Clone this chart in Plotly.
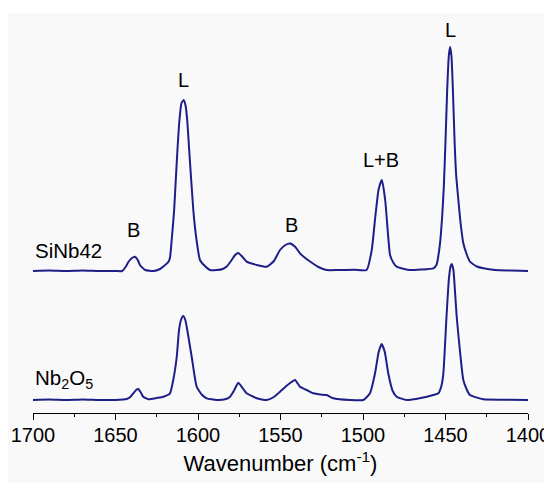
import plotly.graph_objects as go

# ---- data ----
sinb_wn = [1700, 1690, 1680, 1670, 1660, 1650, 1646, 1643.5, 1642.2, 1640, 1638.2, 1636.5, 1635.2, 1632, 1627,
           1623, 1621, 1618, 1617, 1616, 1614.5, 1613.5, 1612.5, 1611.3, 1610, 1608.7, 1607.5, 1606.5, 1605.3,
           1602.8, 1600.8, 1598.8, 1595.8, 1592.7, 1588.7, 1585, 1582.6, 1580, 1577.5, 1575.6, 1573, 1570.5,
           1564.4, 1558.4, 1554, 1550.3, 1547, 1544.2, 1541, 1538.2, 1535, 1532.1, 1527, 1522, 1515, 1505,
           1497.8, 1494.7, 1492.5, 1490.5, 1488.5, 1486.5, 1485, 1483.6, 1481.5, 1479.6, 1475, 1471.5, 1465,
           1457.4, 1455.5, 1453.5, 1452, 1451, 1450, 1449, 1448, 1447.2, 1446.4, 1445.5, 1444.5, 1443.5,
           1442.2, 1441, 1439.2, 1437, 1435.2, 1431, 1427, 1420, 1410, 1400]
sinb_abs = [0.0, 0.005, 0.0, 0.005, 0.0, 0.0, 0.0, 0.05, 0.09, 0.13, 0.143, 0.11, 0.06, 0.01, 0.0,
            0.02, 0.045, 0.09, 0.13, 0.3, 0.6, 0.9, 1.2, 1.5, 1.68, 1.71, 1.65, 1.5, 1.2,
            0.6, 0.3, 0.11, 0.05, 0.01, 0.01, 0.02, 0.045, 0.1, 0.16, 0.18, 0.14, 0.093,
            0.06, 0.043, 0.1, 0.21, 0.26, 0.275, 0.24, 0.177, 0.13, 0.095, 0.04, 0.01, 0.01, 0.012,
            0.01, 0.21, 0.55, 0.82, 0.91, 0.7, 0.4, 0.16, 0.08, 0.043, 0.02, 0.01, 0.015,
            0.027, 0.06, 0.25, 0.55, 0.85, 1.3, 1.8, 2.15, 2.24, 2.15, 1.8, 1.3, 0.95,
            0.71, 0.5, 0.277, 0.16, 0.093, 0.045, 0.027, 0.01, 0.005, 0.0]

nb_wn = [1700, 1690, 1680, 1670, 1660, 1650, 1643.2, 1641, 1639.2, 1637.5, 1636.2, 1634.5, 1633.2, 1630,
         1625, 1621, 1617, 1615, 1612.9, 1611.5, 1610.3, 1609, 1607.7, 1606.5, 1605, 1603.8, 1600.8, 1597.5,
         1594.7, 1588.7, 1583, 1580.6, 1578, 1575.6, 1573, 1570.5, 1564.4, 1558.4, 1554, 1550.3, 1545,
         1541.2, 1538.2, 1534.1, 1530.1, 1526, 1522, 1518, 1507.9, 1499.8, 1495.8, 1492.7, 1490.5, 1488.7,
         1486.8, 1484.7, 1482, 1479.6, 1473.5, 1465, 1457.4, 1454.3, 1452.5, 1451.3, 1449.4, 1448, 1447,
         1446.2, 1445.2, 1444.3, 1443.2, 1441, 1439.2, 1437, 1435.2, 1427.1, 1415, 1400]
nb_abs = [0.0, 0.005, 0.0, 0.005, 0.0, 0.0, 0.01, 0.03, 0.067, 0.1, 0.11, 0.07, 0.033, 0.007,
          0.02, 0.033, 0.067, 0.2, 0.43, 0.7, 0.8, 0.84, 0.8, 0.7, 0.55, 0.43, 0.133, 0.05,
          0.017, 0.0, 0.01, 0.033, 0.1, 0.173, 0.12, 0.067, 0.017, 0.0, 0.03, 0.083, 0.16,
          0.2, 0.133, 0.1, 0.067, 0.055, 0.05, 0.017, 0.0, 0.0, 0.067, 0.267, 0.48, 0.56,
          0.48, 0.267, 0.09, 0.033, 0.0, 0.02, 0.05, 0.067, 0.14, 0.267, 0.83, 1.2, 1.33,
          1.36, 1.3, 1.1, 0.83, 0.45, 0.2, 0.1, 0.05, 0.007, 0.003, 0.0]

sinb_offset = 1.29
series_names = ["SiNb42", "Nb<sub>2</sub>O<sub>5</sub>"]

band_labels = ["B", "L", "B", "L+B", "L"]
band_wn = [1638.8, 1608.5, 1543.2, 1489, 1447]
band_label_y = [1.70, 3.20, 1.75, 2.40, 3.70]

x_ticks = [1700, 1650, 1600, 1550, 1500, 1450, 1400]

line_color = "#1e1e88"
font_family = "Liberation Sans, Arial, sans-serif"

fig = go.Figure()
fig.add_trace(go.Scatter(x=sinb_wn, y=[v + sinb_offset for v in sinb_abs], mode="lines",
                         line=dict(color=line_color, width=2, shape="spline", smoothing=0.5),
                         showlegend=False, hoverinfo="skip"))
fig.add_trace(go.Scatter(x=nb_wn, y=nb_abs, mode="lines",
                         line=dict(color=line_color, width=2, shape="spline", smoothing=0.5),
                         showlegend=False, hoverinfo="skip"))

for txt, wx, wy in zip(band_labels, band_wn, band_label_y):
    fig.add_annotation(x=wx, y=wy, text=txt, showarrow=False, xanchor="center", yanchor="middle",
                       font=dict(size=20, color="black", family=font_family))

fig.add_annotation(x=1700, y=sinb_offset + 0.21, text=series_names[0], showarrow=False,
                   xanchor="left", yanchor="middle", font=dict(size=20.5, color="black", family=font_family))
fig.add_annotation(x=1700, y=0.21, text=series_names[1], showarrow=False,
                   xanchor="left", yanchor="middle", font=dict(size=20.5, color="black", family=font_family))

# faint grey panel behind the chart
fig.add_shape(type="rect", xref="paper", yref="paper", x0=-0.06, x1=1.06, y0=-0.2, y1=1.0,
              fillcolor="#f9f9fa", line=dict(width=0), layer="below")

fig.update_layout(
    width=544, height=475,
    margin=dict(l=25, r=24, t=5, b=70),
    paper_bgcolor="white", plot_bgcolor="rgba(0,0,0,0)",
    font=dict(family=font_family, color="black"),
    xaxis=dict(range=[1700, 1400], tickvals=x_ticks, ticks="outside", ticklen=6, tickwidth=1,
               tickcolor="black", showline=True, linecolor="black", linewidth=1, showgrid=False,
               zeroline=False, tickfont=dict(size=20), automargin=False, ticklabelstandoff=-2,
               minor=dict(dtick=25, tick0=1400, ticks="outside", ticklen=3, tickcolor="black", showgrid=False),
               title=dict(text="Wavenumber (cm<sup>-1</sup>)", font=dict(size=22), standoff=10)),
    yaxis=dict(range=[-0.13, 3.87], visible=False, showgrid=False, zeroline=False, automargin=False),
)

fig.write_html("out.html")
